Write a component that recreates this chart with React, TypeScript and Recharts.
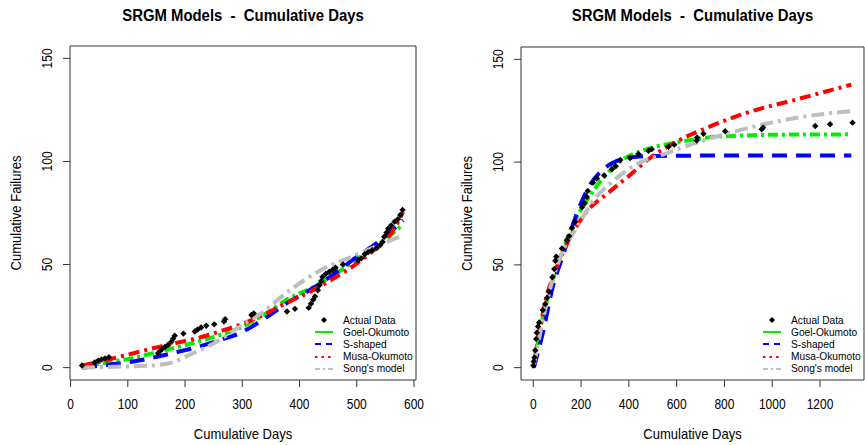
import React from 'react';
import { ComposedChart, Line, Scatter, XAxis, YAxis, ReferenceArea, Legend } from 'recharts';

// tick labels
const leftXTicks = [0, 100, 200, 300, 400, 500, 600];
const rightXTicks = [0, 200, 400, 600, 800, 1000, 1200];
const yTicks = [0, 50, 100, 150];

// left panel: [cumulative days, cumulative failures]
const leftActual = [
  [20, 1], [42, 2.5], [48, 3.4], [54, 4], [60, 4.4], [67, 5], [153, 7], [156, 8], [160, 9],
  [165, 10], [170, 11], [176, 12.5], [179, 14], [182, 15.5], [197, 16.5], [217, 17.5], [222, 18.5],
  [228, 19.5], [237, 20.3], [251, 21], [268, 22.4], [270, 23.5], [316, 25.5], [320, 26.3],
  [378, 27.2], [392, 28.5], [416, 29], [420, 31], [424, 33], [427, 34.5], [432, 37.5], [435, 40],
  [438, 42], [440, 44], [446, 45.5], [452, 46.5], [458, 47.5], [463, 48.5], [476, 50], [502, 52],
  [508, 53], [514, 55], [520, 56], [527, 57], [535, 58], [541, 59.5], [545, 61], [548, 63.5],
  [552, 65.5], [555, 67.5], [560, 69], [566, 70.8], [572, 72], [576, 74], [580, 76.5],
];
const leftGoel = [
  [20, 0.5], [60, 2.3], [110, 4.7], [155, 7.8], [190, 10.2], [226, 12.8], [260, 15.8], [296, 19.3],
  [340, 26], [378, 33], [420, 38.5], [458, 44.5], [500, 52.5], [540, 60], [581, 69.5],
];
const leftSShaped = [
  [20, 0], [60, 1.2], [110, 3], [155, 5.5], [190, 7.8], [226, 10.3], [260, 13.3], [296, 16.8],
  [340, 24], [378, 31.3], [420, 38], [458, 45], [500, 53.7], [540, 61.5], [581, 71.5],
];
const leftMusa = [
  [20, 1], [60, 3.5], [110, 7], [156, 10.2], [190, 12.3], [226, 14.6], [260, 17.5], [296, 20.8],
  [340, 26], [378, 31.5], [420, 37], [458, 43], [500, 50.5], [540, 59.5], [560, 65], [581, 75.5],
];
const leftSong = [
  [20, 0], [87, 0.5], [140, 1], [175, 2.3], [214, 7], [255, 12.5], [296, 20], [330, 25.8],
  [383, 37.5], [435, 47], [493, 54], [540, 59.5], [581, 64.3],
];

// right panel
const rightActual = [
  [0, 1], [2, 3], [5, 5], [8, 8.5], [12, 14], [15, 17], [20, 20], [24, 22], [40, 28], [50, 31],
  [58, 34], [65, 37], [80, 44], [88, 48], [92, 52], [96, 54], [120, 58], [141, 62], [150, 64],
  [162, 68], [175, 71], [204, 78], [215, 80], [224, 83], [228, 86], [250, 90], [266, 92],
  [297, 93.5], [329, 96.5], [345, 98], [364, 101], [405, 102], [440, 104], [482, 105.5],
  [496, 106.3], [566, 107.5], [590, 108.5], [684, 110.5], [686, 112], [712, 113.8], [803, 115],
  [956, 116], [962, 116.8], [1180, 117.6], [1242, 118.4], [1336, 119.2],
];
const rightGoel = [
  [2, 1], [29, 18.4], [64, 35.5], [113, 53.8], [168, 70], [224, 81.3], [294, 92.5], [377, 101.4],
  [475, 106.3], [600, 109.5], [726, 111.9], [893, 113], [1100, 113.4], [1331, 113.5],
];
const rightSShaped = [
  [2, 0], [15, 5.5], [43, 18.4], [78, 37.7], [127, 55.5], [176, 73], [231, 87.7], [294, 96.6],
  [350, 100.6], [433, 102.6], [520, 103], [800, 103.2], [1331, 103.2],
];
const rightMusa = [
  [2, 2], [22, 15], [50, 32], [92, 47], [155, 63.5], [224, 76], [308, 84.5], [392, 92.5],
  [489, 102], [600, 110], [712, 116], [893, 124], [1102, 130.5], [1331, 137.7],
];
const rightSong = [
  [2, 1], [29, 16.8], [64, 35.5], [113, 53.8], [183, 68.4], [252, 81.3], [336, 91], [433, 99],
  [545, 103.8], [684, 109.5], [824, 114.3], [963, 118.4], [1102, 121.6], [1331, 124.8],
];

const FONT = '"Liberation Sans", Arial, Helvetica, sans-serif';
const Y_DOMAIN: [number, number] = [-6, 156];

const toPoints = (pairs: number[][]) => pairs.map(([x, y]) => ({ x, y }));

const models = [
  { key: 'goel', label: 'Goel-Okumoto', color: '#00ee00', dash: '10 4 3 4', legendDash: undefined },
  { key: 'sshaped', label: 'S-shaped', color: '#0000ff', dash: '15 9', legendDash: '6 5' },
  { key: 'musa', label: 'Musa-Okumoto', color: '#ff0000', dash: '11 5 3 5', legendDash: '2.5 4' },
  { key: 'song', label: "Song's model", color: '#bebebe', dash: '13 5 3 5', legendDash: '5 3 2 3' },
];

const Diamond = (props: any) => {
  const { cx, cy } = props;
  if (cx == null || cy == null) return null;
  const r = 3.2;
  return <polygon points={`${cx},${cy - r} ${cx + r},${cy} ${cx},${cy + r} ${cx - r},${cy}`} fill="#000" />;
};

// tick text in the source is tall and narrow, so squeeze it a little
const XTick = (props: any) => {
  const { x, y, payload } = props;
  return (
    <text transform={`translate(${x},${y + 20}) scale(0.8,1)`} textAnchor="middle" fontSize={15} fill="#000" fontFamily={FONT}>
      {payload.value}
    </text>
  );
};

const YTick = (props: any) => {
  const { x, y, payload } = props;
  const bx = x - 9;
  return (
    <text transform={`translate(${bx},${y}) rotate(-90) scale(0.8,1)`} textAnchor="middle" fontSize={15} fill="#000" fontFamily={FONT}>
      {payload.value}
    </text>
  );
};

const renderLegend = () => (
  <div style={{ fontFamily: FONT, fontSize: 10.2, color: '#000' }}>
    <div style={{ display: 'flex', alignItems: 'center', height: 12.2 }}>
      <svg width={28} height={12}>
        <polygon points="9,3 12,6 9,9 6,6" fill="#000" />
      </svg>
      <span>Actual Data</span>
    </div>
    {models.map((m) => (
      <div key={m.key} style={{ display: 'flex', alignItems: 'center', height: 12.2 }}>
        <svg width={28} height={12}>
          <line x1={0} y1={6} x2={18} y2={6} stroke={m.color} strokeWidth={2} strokeDasharray={m.legendDash} />
        </svg>
        <span>{m.label}</span>
      </div>
    ))}
  </div>
);

interface PanelProps {
  left: number;
  width: number;
  yAxisWidth: number;
  top: number;
  right: number;
  xDomain: [number, number];
  xTicks: number[];
  actual: number[][];
  series: number[][][];
  legendLeft: number;
}

function Panel({ left, width, yAxisWidth, top, right, xDomain, xTicks, actual, series, legendLeft }: PanelProps) {
  const plotLeft = left + yAxisWidth;
  const plotWidth = width - yAxisWidth - right;
  return (
    <>
      <div
        style={{
          position: 'absolute',
          left: plotLeft,
          width: plotWidth,
          top: 6,
          textAlign: 'center',
          fontFamily: FONT,
          fontWeight: 'bold',
          fontSize: 16,
          lineHeight: '20px',
          whiteSpace: 'pre',
          transform: 'scaleX(0.93)',
        }}
      >
        {'SRGM Models  -  Cumulative Days'}
      </div>
      <div style={{ position: 'absolute', left, top: 0 }}>
        <ComposedChart width={width} height={445} margin={{ top, right, bottom: 0, left: 0 }}>
          <XAxis
            type="number"
            dataKey="x"
            domain={xDomain}
            allowDataOverflow
            ticks={xTicks}
            interval={0}
            axisLine={false}
            tickSize={7}
            tickMargin={2}
            tickLine={{ stroke: '#333' }}
            tick={<XTick />}
            height={65}
            label={{
              content: (p: any) => {
                const vb = p.viewBox || { x: yAxisWidth, y: 380, width: plotWidth, height: 65 };
                const cx = vb.x + vb.width / 2;
                const by = vb.y + vb.height - 6;
                return (
                  <text transform={`translate(${cx},${by}) scale(0.93,1)`} textAnchor="middle" fontSize={14} fill="#000" fontFamily={FONT}>
                    Cumulative Days
                  </text>
                );
              },
            }}
          />
          <YAxis
            type="number"
            dataKey="y"
            domain={Y_DOMAIN}
            allowDataOverflow
            ticks={yTicks}
            interval={0}
            axisLine={false}
            tickSize={7}
            tickMargin={2}
            tickLine={{ stroke: '#333' }}
            tick={<YTick />}
            width={yAxisWidth}
            label={{
              content: (p: any) => {
                const vb = p.viewBox || { x: 0, y: top, width: yAxisWidth, height: 334 };
                const bx = vb.x + vb.width - 49;
                const cy = vb.y + vb.height / 2;
                return (
                  <text transform={`translate(${bx},${cy}) rotate(-90) scale(0.93,1)`} textAnchor="middle" fontSize={14} fill="#000" fontFamily={FONT}>
                    Cumulative Failures
                  </text>
                );
              },
            }}
          />
          <ReferenceArea
            x1={xDomain[0]}
            x2={xDomain[1]}
            y1={Y_DOMAIN[0]}
            y2={Y_DOMAIN[1]}
            fill="none"
            fillOpacity={0}
            stroke="#333"
            strokeWidth={1}
            ifOverflow="visible"
          />
          <Scatter data={toPoints(actual)} shape={<Diamond />} isAnimationActive={false} />
          {models.map((m, i) => (
            <Line
              key={m.key}
              data={toPoints(series[i])}
              dataKey="y"
              type="monotone"
              stroke={m.color}
              strokeWidth={4}
              strokeDasharray={m.dash}
              dot={false}
              activeDot={false}
              isAnimationActive={false}
            />
          ))}
          <Legend
            layout="vertical"
            align="center"
            verticalAlign="middle"
            content={renderLegend}
            wrapperStyle={{ left: legendLeft, top: 314, width: 120, height: 62 }}
          />
        </ComposedChart>
      </div>
    </>
  );
}

export default function App() {
  return (
    <div style={{ position: 'absolute', left: 0, top: 0, width: 865, height: 445, background: '#fff', overflow: 'hidden' }}>
      <Panel
        left={0}
        width={430}
        yAxisWidth={70}
        top={46}
        right={14}
        xDomain={[-1, 603.5]}
        xTicks={leftXTicks}
        actual={leftActual}
        series={[leftGoel, leftSShaped, leftMusa, leftSong]}
        legendLeft={315}
      />
      <Panel
        left={430}
        width={435}
        yAxisWidth={91}
        top={47}
        right={1}
        xDomain={[-51.4, 1384]}
        xTicks={rightXTicks}
        actual={rightActual}
        series={[rightGoel, rightSShaped, rightMusa, rightSong]}
        legendLeft={333}
      />
    </div>
  );
}
